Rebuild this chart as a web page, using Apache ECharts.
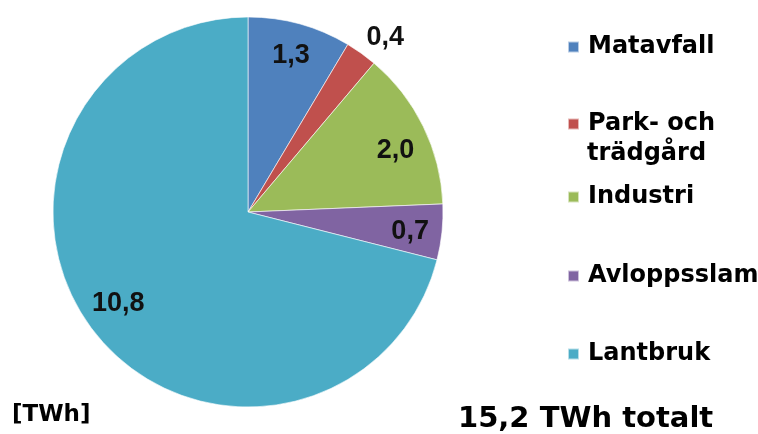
<!DOCTYPE html>
<html>
<head>
<meta charset="utf-8">
<script src="https://cdn.jsdelivr.net/npm/echarts@6/dist/echarts.min.js"></script>
<style>
  html, body { margin: 0; padding: 0; background: #fff; }
  #container { width: 758px; height: 434px; }
</style>
</head>
<body>
<div id="container"></div>
<script>
const categories = ['Matavfall', 'Park- och trädgård', 'Industri', 'Avloppsslam', 'Lantbruk']
const values = [1.3, 0.4, 2.0, 0.7, 10.8]
const colors = ['#4F81BD', '#C0504D', '#9BBB59', '#8064A2', '#4BACC6']
const legendTexts = ['Matavfall', 'Park- och', 'Industri', 'Avloppsslam', 'Lantbruk']
const legendSecondLine = 'trädgård'
const unitText = '[TWh]'

const fmt = v => v.toFixed(1).replace('.', ',')
const total = values.reduce((a, b) => a + b, 0)

const myChart = echarts.init(document.getElementById('container'))

const legendFont = {
    fontFamily: 'DejaVu Sans',
    fontWeight: 'bold',
    fontSize: 24,
    lineHeight: 30,
    color: '#000'
}

// legend rows, one component per entry so each sits where Excel put it
const legendTops = [32, 109, 182, 261, 339]
const legends = categories.map((name, i) => ({
    data: [name],
    orient: 'vertical',
    left: 567,
    top: legendTops[i],
    padding: 0,
    icon: 'rect',
    itemWidth: 11,
    itemHeight: 11,
    selectedMode: false,
    formatter: () => legendTexts[i],
    textStyle: Object.assign({}, legendFont, { padding: [0, 0, 0, 4] })
}))

// small nudges so the labels land where the reference has them
const labelNudge = [[0, 0], [-9, -3], [2, 10], [1, 3], [-2, -8]]

const option = {
    backgroundColor: '#fff',
    animation: false,
    color: colors,
    title: [
        {
            text: unitText,
            left: 12,
            top: 404,
            padding: 0,
            textStyle: { fontFamily: 'DejaVu Sans', fontWeight: 'bold', fontSize: 23, color: '#000' }
        },
        {
            text: fmt(total) + ' TWh totalt',
            left: 458,
            top: 405,
            padding: 0,
            textStyle: { fontFamily: 'DejaVu Sans', fontWeight: 'bold', fontSize: 29, color: '#000' }
        },
        {
            text: legendSecondLine,
            left: 587,
            top: 139,
            padding: 0,
            textStyle: legendFont
        }
    ],
    legend: legends,
    series: [
        {
            name: 'slices',
            type: 'pie',
            center: [248, 212],
            radius: [0, 195],
            startAngle: 90,
            clockwise: true,
            label: { show: false },
            labelLine: { show: false },
            itemStyle: { borderColor: 'rgba(255,255,255,0.6)', borderWidth: 1 },
            emphasis: { disabled: true },
            data: categories.map((name, i) => ({ name, value: values[i] }))
        },
        {
            name: 'labels',
            type: 'pie',
            center: [248, 212],
            radius: [123, 195],
            startAngle: 90,
            clockwise: true,
            silent: true,
            avoidLabelOverlap: false,
            itemStyle: { color: 'rgba(0,0,0,0)' },
            emphasis: { disabled: true },
            label: {
                show: true,
                position: 'inside',
                formatter: p => fmt(p.value),
                fontFamily: 'Liberation Sans',
                fontWeight: 'bold',
                fontSize: 27,
                color: '#111'
            },
            labelLayout: p => ({ dx: labelNudge[p.dataIndex][0], dy: labelNudge[p.dataIndex][1] }),
            data: categories.map((name, i) => ({
                name,
                value: values[i],
                label: i === 1 ? { position: 'outside' } : {},
                labelLine: { show: false, length: 16, length2: 0 }
            }))
        }
    ]
}

myChart.setOption(option)
</script>
</body>
</html>
